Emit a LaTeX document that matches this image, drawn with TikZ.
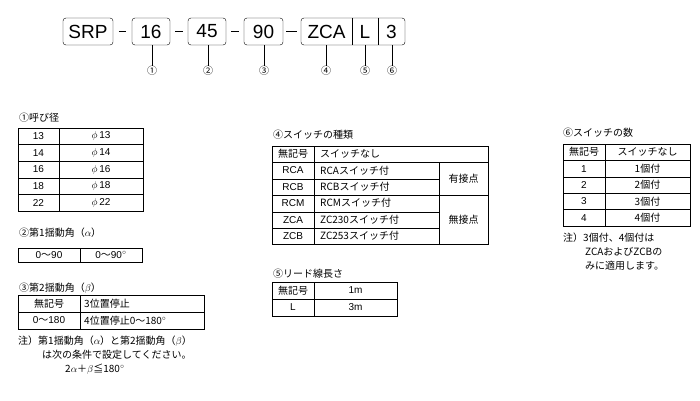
\documentclass[tikz,border=0pt]{standalone}
\usepackage{fontspec}
\setmainfont{Liberation Sans}
\newfontfamily\jp{Noto Sans CJK JP}
\usetikzlibrary{positioning, calc}

\begin{document}
\begin{tikzpicture}[x=1pt, y=-1pt,
    codebox/.style={draw, rounded corners=3pt, minimum height=27pt, font=\fontsize{19}{19}\selectfont, inner sep=2pt},
    jptext/.style={font=\jp\fontsize{10}{10}\selectfont, inner sep=0pt},
    cell/.style={font=\fontsize{10}{10}\selectfont, inner sep=0pt},
    grid/.style={line width=0.6pt}]
\useasboundingbox (0,0) rectangle (700,400);

% Code line
\node[codebox, minimum width=50pt] (srp) at (88,31.5) {SRP};
\node[codebox, minimum width=38pt] (c16) at (151,31.5) {16};
\node[codebox, minimum width=38pt] (c45) at (207,31.5) {45};
\node[codebox, minimum width=39pt] (c90) at (263.5,31.5) {90};
\draw[rounded corners=3pt] (301,18) rectangle (405,45);
\draw (352,18) -- (352,45);
\draw (378,18) -- (378,45);
\node[font=\fontsize{19}{19}\selectfont] (zca) at (326.5,31.5) {ZCA};
\node[font=\fontsize{19}{19}\selectfont] (cl) at (365,31.5) {L};
\node[font=\fontsize{19}{19}\selectfont] (c3) at (391.5,31.5) {3};
\foreach \a/\b in {srp/c16,c16/c45,c45/c90} {
    \draw[line width=1.6pt] ($(\a.east)!0.3!(\b.west)$) -- ($(\a.east)!0.7!(\b.west)$);
}
\draw[line width=1.6pt] (286,31.5) -- (297,31.5);

% Circled numbers
\node[jptext] (m1) at (152,71) {①};
\node[jptext] (m2) at (208,71) {②};
\node[jptext] (m3) at (264,71) {③};
\node[jptext] (m4) at (326,71) {④};
\node[jptext] (m5) at (365,71) {⑤};
\node[jptext] (m6) at (392,71) {⑥};
\draw (c16.south -| m1) -- (m1.north);
\draw (c45.south -| m2) -- (m2.north);
\draw (c90.south -| m3) -- (m3.north);
\draw (326,45) -- (m4.north);
\draw (365,45) -- (m5.north);
\draw (392,45) -- (m6.north);

% Table 1
\node[jptext, anchor=west] at (19,118) {①呼び径};
\draw[grid] (18,128) rectangle (143,211);
\draw[grid] (59,128) -- (59,211);
\foreach \i in {1,...,4} \draw[grid] (18,128+\i*16.6) -- (143,128+\i*16.6);
\foreach \v [count=\i from 0] in {13,14,16,18,22} {
    \node[cell] at (38.5,136.3+\i*16.6) {\v};
    \node[cell] at (101,136.3+\i*16.6) {$\phi$\,\v};
}

% Table 2
\node[jptext, anchor=west] at (19,233) {②第1揺動角（$\alpha$）};
\draw[grid] (18,248) rectangle (142,262);
\draw[grid] (80,248) -- (80,262);
\node[cell] at (49,255) {0{\jp〜}90};
\node[cell] at (111,255) {0{\jp〜}90$^{\circ}$};

% Table 3
\node[jptext, anchor=west] at (19,288) {③第2揺動角（$\beta$）};
\draw[grid] (18,295) rectangle (204,329);
\draw[grid] (80,295) -- (80,329);
\draw[grid] (18,312) -- (204,312);
\node[jptext] at (49,303.5) {無記号};
\node[jptext, anchor=west] at (84,303.5) {3位置停止};
\node[cell] at (49,320.5) {0{\jp〜}180};
\node[jptext, anchor=west] at (84,320.5) {4位置停止0〜180$^{\circ}$};
\node[jptext, anchor=west] at (18,341) {注）第1揺動角（$\alpha$）と第2揺動角（$\beta$）};
\node[jptext, anchor=west] at (42,355) {は次の条件で設定してください。};
\node[jptext, anchor=west] at (65,369) {2$\alpha$＋$\beta$≦180$^{\circ}$};

% Table 4
\node[jptext, anchor=west] at (273,135) {④スイッチの種類};
\draw[grid] (272,146) rectangle (488,244);
\draw[grid] (314,146) -- (314,244);
\draw[grid] (439,162.5) -- (439,244);
\draw[grid] (272,162.5) -- (488,162.5);
\draw[grid] (272,179) -- (439,179);
\draw[grid] (272,195.5) -- (488,195.5);
\draw[grid] (272,212) -- (439,212);
\draw[grid] (272,228) -- (439,228);
\node[jptext] at (293,154) {無記号};
\node[jptext, anchor=west] at (320,154) {スイッチなし};
\foreach \k/\t [count=\i from 1] in {RCA/RCA,RCB/RCB,RCM/RCM,ZCA/ZC230,ZCB/ZC253} {
    \node[cell] at (293,154+\i*16.4) {\k};
    \node[jptext, anchor=west] at (320,154+\i*16.4) {\t スイッチ付};
}
\node[jptext] at (463.5,179) {有接点};
\node[jptext] at (463.5,220) {無接点};

% Table 5
\node[jptext, anchor=west] at (273,274) {⑤リード線長さ};
\draw[grid] (272,282) rectangle (397,316);
\draw[grid] (314,282) -- (314,316);
\draw[grid] (272,299) -- (397,299);
\node[jptext] at (293,290.5) {無記号};
\node[cell] at (355.5,290.5) {1m};
\node[cell] at (293,307.5) {L};
\node[cell] at (355.5,307.5) {3m};

% Table 6
\node[jptext, anchor=west] at (563,133) {⑥スイッチの数};
\draw[grid] (563,144) rectangle (690,226);
\draw[grid] (605,144) -- (605,226);
\foreach \i in {1,...,4} \draw[grid] (563,144+\i*16.4) -- (690,144+\i*16.4);
\node[jptext] at (584,152.2) {無記号};
\node[jptext] at (647.5,152.2) {スイッチなし};
\foreach \i in {1,...,4} {
    \node[cell] at (584,152.2+\i*16.4) {\i};
    \node[jptext] at (647.5,152.2+\i*16.4) {\i 個付};
}
\node[jptext, anchor=west] at (563,238) {注）3個付、4個付は};
\node[jptext, anchor=west] at (585,252) {ZCAおよびZCBの};
\node[jptext, anchor=west] at (585,266) {みに適用します。};
\end{tikzpicture}
\end{document}
